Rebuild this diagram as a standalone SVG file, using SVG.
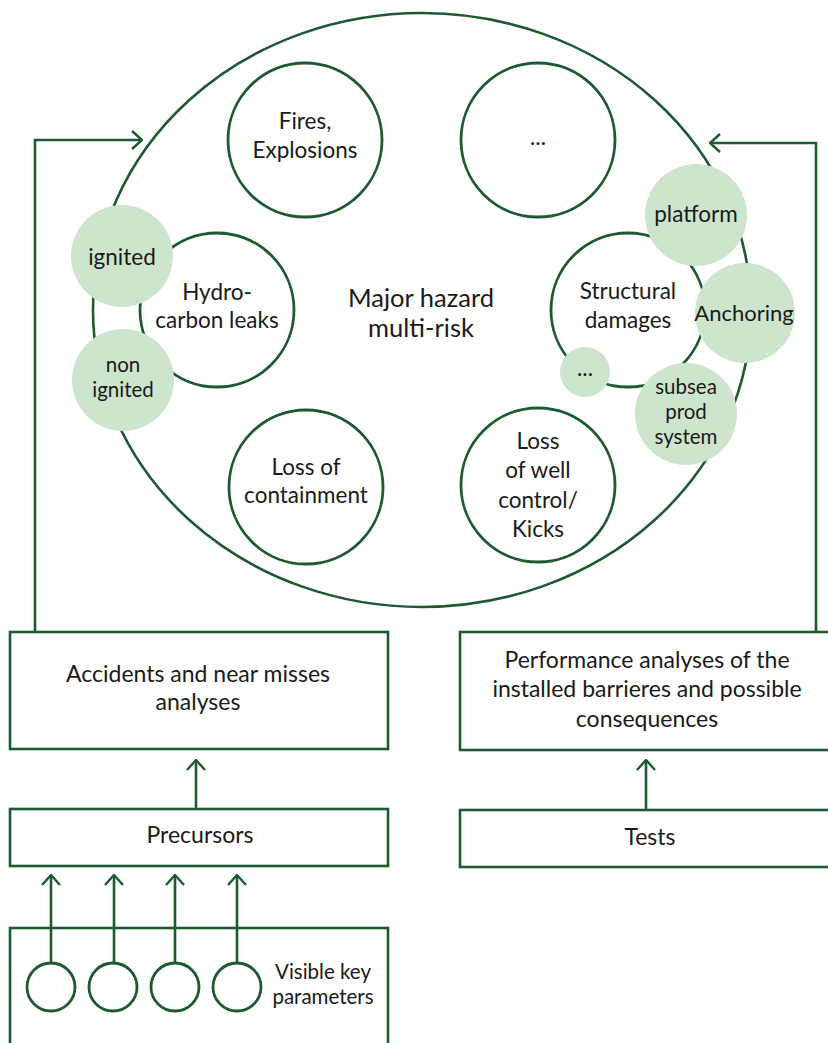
<svg xmlns="http://www.w3.org/2000/svg" width="828" height="1043" viewBox="0 0 828 1043">
<style>
.ln{fill:none;stroke:#1d5a32;stroke-width:2.6}
.c{fill:#fff;stroke:#1d5a32;stroke-width:2.8}
.g{fill:#cde4cd;stroke:none}
.box{fill:#fff;stroke:#1d5a32;stroke-width:2.6}
text{font-family:Lato,"Open Sans","Liberation Sans",sans-serif;font-size:22.5px;fill:#1a1a1a;text-anchor:middle}
.big{font-size:25.5px}
.bx{font-size:23px}
.an{font-size:22px}
.tt{font-size:20.5px}
</style>
<defs>
<marker id="ah" viewBox="0 0 12 20" refX="11" refY="10" markerWidth="12" markerHeight="20" markerUnits="userSpaceOnUse" orient="auto">
<path d="M1,1 L11,10 L1,19" fill="none" stroke="#1d5a32" stroke-width="2.4"/>
</marker>
</defs>
<g id="hazard-ellipse">
<ellipse cx="422" cy="310" rx="329" ry="297" class="ln" stroke-width="2.8"/>
<text class="big" x="421" y="307">Major hazard</text>
<text class="big" x="421" y="337">multi-risk</text>
</g>
<g id="fires"><circle cx="305" cy="140" r="77" class="c"/><text x="305" y="129">Fires,</text><text x="305" y="158">Explosions</text></g>
<g id="more-top"><circle cx="538" cy="140" r="77" class="c"/><text x="538" y="145">...</text></g>
<g id="hydrocarbon"><circle cx="217" cy="310" r="77" class="c"/><text x="217" y="300">Hydro-</text><text x="217" y="328">carbon leaks</text></g>
<g id="containment"><circle cx="306" cy="487" r="77" class="c"/><text x="306" y="475">Loss of</text><text x="306" y="503">containment</text></g>
<g id="well-control"><circle cx="538" cy="485" r="77" class="c"/><text x="538" y="449">Loss</text><text x="538" y="478">of well</text><text x="538" y="508">control/</text><text x="538" y="537">Kicks</text></g>
<g id="structural"><circle cx="628" cy="310" r="77" class="c"/><text x="628" y="299">Structural</text><text x="628" y="328">damages</text></g>
<g id="ignited"><circle cx="122" cy="256" r="51" class="g"/><text x="122" y="265">ignited</text></g>
<g id="non-ignited"><circle cx="123" cy="380" r="51" class="g"/><text class="tt" x="123" y="372">non</text><text class="tt" x="123" y="397">ignited</text></g>
<g id="platform"><circle cx="696" cy="215" r="51" class="g"/><text x="696" y="222">platform</text></g>
<g id="anchoring"><circle cx="745" cy="313" r="50" class="g"/><text class="an" x="744" y="321">Anchoring</text></g>
<g id="subsea"><circle cx="686" cy="414" r="51" class="g"/><text class="tt" x="686" y="394">subsea</text><text class="tt" x="686" y="419">prod</text><text class="tt" x="686" y="444">system</text></g>
<g id="more-small"><circle cx="585" cy="372" r="25" class="g"/><text x="585" y="376">...</text></g>
<g id="accidents"><rect x="10" y="632" width="378" height="117" class="box"/><text class="bx" x="198" y="682">Accidents and near misses</text><text class="bx" x="198" y="710">analyses</text></g>
<g id="precursors"><rect x="10" y="809" width="378" height="57" class="box"/><text class="bx" x="200" y="843">Precursors</text></g>
<g id="visible-key"><rect x="10" y="928" width="378" height="130" class="box"/>
<circle cx="51" cy="987" r="24" class="c"/><circle cx="113" cy="987" r="24" class="c"/><circle cx="175" cy="987" r="24" class="c"/><circle cx="237" cy="987" r="24" class="c"/>
<text class="tt" x="323" y="979">Visible key</text><text class="tt" x="323" y="1004">parameters</text></g>
<g id="performance"><rect x="460" y="632" width="380" height="118" class="box"/><text class="bx" x="647" y="668">Performance analyses of the</text><text class="bx" x="647" y="697">installed barrieres and possible</text><text class="bx" x="647" y="727">consequences</text></g>
<g id="tests"><rect x="460" y="810" width="380" height="57" class="box"/><text class="bx" x="650" y="845">Tests</text></g>
<g id="connectors">
<path class="ln" d="M35,632 V140 H142" marker-end="url(#ah)"/>
<path class="ln" d="M816,632 V143 H710" marker-end="url(#ah)"/>
<path class="ln" d="M196,809 V760" marker-end="url(#ah)"/>
<path class="ln" d="M646,810 V760" marker-end="url(#ah)"/>
<path class="ln" d="M51,963 V875" marker-end="url(#ah)"/>
<path class="ln" d="M114,963 V875" marker-end="url(#ah)"/>
<path class="ln" d="M175,963 V875" marker-end="url(#ah)"/>
<path class="ln" d="M237,963 V875" marker-end="url(#ah)"/>
</g>
</svg>
